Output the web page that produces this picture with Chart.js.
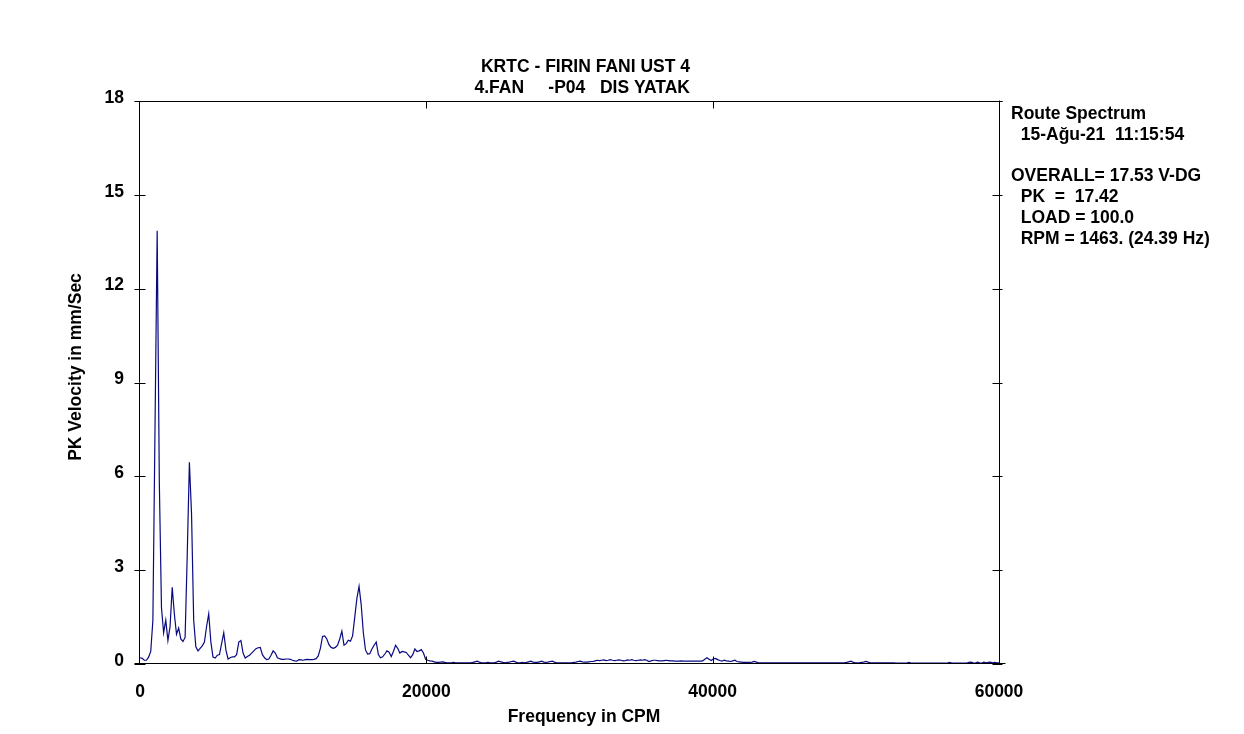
<!DOCTYPE html>
<html>
<head>
<meta charset="utf-8">
<script src="https://cdn.jsdelivr.net/npm/chart.js@4.4.1/dist/chart.umd.min.js"></script>
<style>
html,body{margin:0;padding:0;background:#ffffff;}
#wrap{width:1244px;height:734px;position:relative;}
</style>
</head>
<body>
<div id="wrap"><canvas id="c" width="1244" height="734"></canvas></div>
<script>
// ---- Text content ----
const titleLines = ["KRTC - FIRIN FANI UST 4", "4.FAN     -P04   DIS YATAK"];
const infoLines = ["Route Spectrum", "  15-Ağu-21  11:15:54", "", "OVERALL= 17.53 V-DG", "  PK  =  17.42", "  LOAD = 100.0", "  RPM = 1463. (24.39 Hz)"];
const xAxisTitle = "Frequency in CPM";
const yAxisTitle = "PK Velocity in mm/Sec";

// ---- Axis ticks ----
const xTickValues = [0, 20000, 40000, 60000];
const yTickValues = [0, 3, 6, 9, 12, 15, 18];

// ---- Spectrum (line spacing in CPM, velocity values in mm/s) ----
const cpmStep = 150;
const band1 = [ // 0 - 7350 CPM
  0.2,0.18,0.12,0.12,0.22,0.4,1.4,7.6,13.85,5.8,
  1.8,1.0,1.4,0.75,1.2,2.45,1.6,0.95,1.15,0.8,
  0.72,0.85,3.5,6.45,4.8,1.4,0.55,0.42,0.5,0.58,
  0.7,1.2,1.6,0.7,0.22,0.19,0.28,0.3,0.65,1.0,
  0.45,0.16,0.2,0.23,0.23,0.3,0.7,0.75,0.35,0.19
];
const band2 = [ // 7500 - 14850 CPM
  0.24,0.28,0.35,0.42,0.49,0.52,0.53,0.3,0.2,0.14,
  0.16,0.28,0.42,0.35,0.2,0.17,0.15,0.15,0.16,0.16,
  0.15,0.12,0.1,0.09,0.14,0.13,0.12,0.14,0.15,0.14,
  0.14,0.15,0.17,0.26,0.5,0.88,0.9,0.8,0.62,0.53,
  0.5,0.53,0.6,0.8,1.05,0.6,0.65,0.76,0.73,0.9
];
const band3 = [ // 15000 - 21450 CPM
  1.5,2.1,2.48,1.9,1.0,0.45,0.32,0.33,0.48,0.6,
  0.7,0.3,0.2,0.23,0.32,0.42,0.38,0.24,0.4,0.6,
  0.5,0.35,0.4,0.39,0.37,0.28,0.2,0.3,0.48,0.4,
  0.42,0.46,0.35,0.15,0.12,0.1,0.09,0.07,0.05,0.05,
  0.06,0.07,0.05,0.04
];
const band4 = [ // 21600 - 43350 CPM
  0.04,0.04,0.05,0.04,0.04,0.04,
  0.04,0.04,0.04,0.04,0.04,0.05,0.07,0.09,0.06,0.04,
  0.04,0.04,0.05,0.04,0.04,0.04,0.06,0.09,0.07,0.05,
  0.04,0.05,0.06,0.08,0.09,0.06,0.04,0.04,0.05,0.04,
  0.05,0.07,0.09,0.06,0.05,0.05,0.07,0.09,0.06,0.05,
  0.06,0.08,0.09,0.06,0.04,0.04,0.04,0.04,0.04,0.04,
  0.04,0.04,0.05,0.06,0.08,0.09,0.07,0.06,0.06,0.07,
  0.08,0.08,0.1,0.12,0.11,0.12,0.13,0.11,0.12,0.14,
  0.12,0.11,0.12,0.13,0.12,0.1,0.11,0.13,0.12,0.14,
  0.12,0.11,0.12,0.13,0.12,0.14,0.12,0.08,0.1,0.12,
  0.12,0.11,0.1,0.1,0.11,0.12,0.11,0.1,0.1,0.09,
  0.09,0.09,0.1,0.09,0.09,0.09,0.09,0.09,0.09,0.09,
  0.09,0.09,0.1,0.15,0.2,0.15,0.11,0.16,0.18,0.14,
  0.11,0.09,0.12,0.1,0.09,0.08,0.1,0.12,0.08,0.07,
  0.06,0.05,0.05,0.05,0.05,0.06,0.08,0.06,0.04,0.04
];
const band5 = [ // 43500 - 60000 CPM
  0.04,0.04,0.04,0.04,0.04,0.04,0.04,0.04,0.04,0.04,
  0.04,0.04,0.04,0.04,0.04,0.04,0.04,0.04,0.04,0.04,
  0.04,0.04,0.04,0.04,0.04,0.04,0.04,0.04,0.04,0.04,
  0.04,0.04,0.04,0.04,0.04,0.04,0.04,0.04,0.04,0.05,
  0.07,0.09,0.06,0.04,0.04,0.04,0.05,0.06,0.08,0.06,
  0.04,0.04,0.04,0.04,0.04,0.04,0.04,0.04,0.04,0.04,
  0.04,0.04,0.03,0.03,0.03,0.03,0.03,0.03,0.05,0.03,
  0.03,0.03,0.03,0.03,0.03,0.03,0.03,0.03,0.03,0.03,
  0.03,0.03,0.03,0.03,0.03,0.03,0.03,0.05,0.03,0.03,
  0.03,0.03,0.03,0.03,0.03,0.03,0.05,0.06,0.04,0.03,
  0.06,0.04,0.03,0.06,0.04,0.05,0.06,0.04,0.05,0.04,
  0.04
];

const velocity = [].concat(band1, band2, band3, band4, band5);
const points = velocity.map((v, i) => ({ x: i * cpmStep, y: v }));

const FONT_FAMILY = '"Liberation Sans", Arial, Helvetica, sans-serif';
const FONT_SIZE = 17.5;

const framePlugin = {
  id: 'frame',
  afterDraw(chart) {
    const { ctx, chartArea: a, scales } = chart;
    const xs = scales.x, ys = scales.y;
    const L = Math.round(a.left) - 0.5, R = Math.round(a.right) + 0.5;
    const T = Math.round(a.top) + 0.5, B = Math.round(a.bottom) - 0.5;
    ctx.save();
    ctx.strokeStyle = '#000000';
    ctx.lineWidth = 1;
    ctx.beginPath();
    ctx.moveTo(L, T); ctx.lineTo(L, B);
    ctx.moveTo(R, T - 1); ctx.lineTo(R, B);
    ctx.moveTo(L, T); ctx.lineTo(R + 3, T);
    ctx.moveTo(L - 5, B); ctx.lineTo(R + 6, B);
    yTickValues.forEach(v => {
      const py = Math.round(ys.getPixelForValue(v)) + 0.5;
      ctx.moveTo(L - 5, py); ctx.lineTo(L + 6, py);
      ctx.moveTo(R - 7, py); ctx.lineTo(R + 3, py);
    });
    xTickValues.slice(1, -1).forEach(v => {
      const px = Math.round(xs.getPixelForValue(v)) + 0.5;
      ctx.moveTo(px, T); ctx.lineTo(px, T + 7);
      ctx.moveTo(px, B); ctx.lineTo(px, B - 7);
    });
    ctx.stroke();

    ctx.fillStyle = '#000000';
    ctx.font = 'bold ' + FONT_SIZE + 'px ' + FONT_FAMILY;
    ctx.textBaseline = 'middle';
    // title (right-aligned pair of lines)
    ctx.textAlign = 'right';
    ctx.fillText(titleLines[0], 690, 67);
    ctx.fillText(titleLines[1], 690, 88);
    // info block
    ctx.textAlign = 'left';
    infoLines.forEach((t, i) => { if (t) ctx.fillText(t, 1011, 114 + i * 20.8); });
    // axis titles
    ctx.textAlign = 'center';
    ctx.fillText(xAxisTitle, 584, 717);
    ctx.save();
    ctx.translate(76, 367);
    ctx.rotate(-Math.PI / 2);
    ctx.fillText(yAxisTitle, 0, 0);
    ctx.restore();
    ctx.restore();
  }
};

new Chart(document.getElementById('c'), {
  type: 'line',
  data: {
    datasets: [{
      data: points,
      borderColor: '#0a0a80',
      borderWidth: 1.2,
      pointRadius: 0,
      tension: 0,
      fill: false
    }]
  },
  options: {
    responsive: false,
    animation: false,
    devicePixelRatio: 1,
    layout: { padding: { left: 0, right: 245, top: 101, bottom: 0 } },
    plugins: { legend: { display: false }, tooltip: { enabled: false }, title: { display: false } },
    scales: {
      x: {
        type: 'linear',
        min: 0, max: 60000,
        afterBuildTicks: s => { s.ticks = xTickValues.map(v => ({ value: v })); },
        afterFit: s => { s.height = 70; },
        grid: { display: false },
        border: { display: false },
        ticks: {
          color: '#000000',
          font: { family: FONT_FAMILY, size: FONT_SIZE, weight: 'bold' },
          padding: 10,
          maxRotation: 0,
          autoSkip: false,
          callback: v => String(v)
        }
      },
      y: {
        type: 'linear',
        min: 0, max: 18,
        afterBuildTicks: s => { s.ticks = yTickValues.map(v => ({ value: v })); },
        afterFit: s => { s.width = 140; },
        grid: { display: false },
        border: { display: false },
        ticks: {
          color: '#000000',
          font: { family: FONT_FAMILY, size: FONT_SIZE, weight: 'bold' },
          padding: 8,
          labelOffset: -3,
          callback: v => String(v)
        }
      }
    }
  },
  plugins: [framePlugin]
});
</script>
</body>
</html>
